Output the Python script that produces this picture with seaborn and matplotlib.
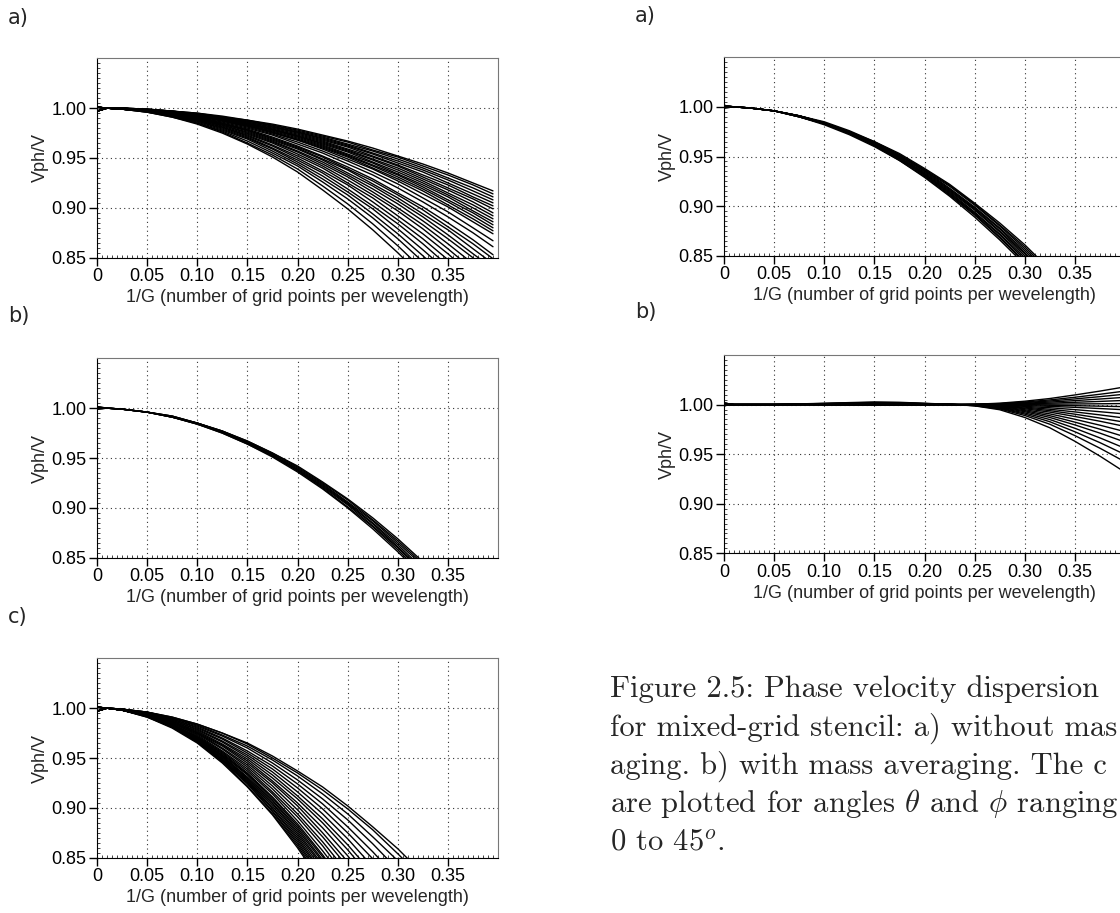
import pandas as pd
import seaborn as sns
import matplotlib.pyplot as plt
from matplotlib.ticker import MultipleLocator

sns.set_style("ticks")
plt.rcParams['font.family'] = ['Liberation Sans', 'DejaVu Sans']
plt.rcParams['mathtext.fontset'] = 'cm'

x_points = [0, 0.01, 0.025, 0.05, 0.075, 0.10, 0.125, 0.15, 0.175, 0.20,
            0.225, 0.25, 0.275, 0.30, 0.325, 0.35, 0.375, 0.395]

# left column a) - one row per (theta, phi) curve
left_a = [
    [1.001, 1.0, 1.000, 0.999, 0.997, 0.995, 0.992, 0.988, 0.984, 0.979, 0.973, 0.967, 0.960, 0.952, 0.944, 0.935, 0.925, 0.917],
    [0.997, 1.0, 1.000, 0.999, 0.997, 0.995, 0.991, 0.988, 0.983, 0.978, 0.972, 0.966, 0.958, 0.951, 0.942, 0.933, 0.923, 0.914],
    [1.001, 1.0, 1.000, 0.999, 0.997, 0.994, 0.991, 0.987, 0.983, 0.977, 0.971, 0.964, 0.957, 0.949, 0.940, 0.930, 0.920, 0.911],
    [0.997, 1.0, 1.000, 0.999, 0.997, 0.994, 0.991, 0.987, 0.982, 0.976, 0.970, 0.963, 0.955, 0.947, 0.938, 0.928, 0.917, 0.908],
    [1.001, 1.0, 1.000, 0.998, 0.997, 0.994, 0.990, 0.986, 0.981, 0.976, 0.969, 0.962, 0.954, 0.945, 0.936, 0.925, 0.914, 0.905],
    [0.997, 1.0, 1.000, 0.998, 0.996, 0.994, 0.990, 0.986, 0.981, 0.975, 0.968, 0.961, 0.952, 0.943, 0.933, 0.923, 0.911, 0.902],
    [1.001, 1.0, 1.000, 0.998, 0.996, 0.994, 0.990, 0.985, 0.980, 0.974, 0.967, 0.959, 0.951, 0.942, 0.931, 0.920, 0.909, 0.899],
    [0.997, 1.0, 1.000, 0.998, 0.996, 0.993, 0.990, 0.985, 0.979, 0.973, 0.966, 0.958, 0.949, 0.940, 0.929, 0.918, 0.906, 0.895],
    [1.001, 1.0, 1.000, 0.998, 0.996, 0.993, 0.989, 0.984, 0.979, 0.972, 0.965, 0.957, 0.948, 0.938, 0.927, 0.915, 0.903, 0.892],
    [0.997, 1.0, 1.000, 0.998, 0.996, 0.993, 0.989, 0.984, 0.978, 0.972, 0.964, 0.956, 0.946, 0.936, 0.925, 0.913, 0.900, 0.889],
    [1.001, 1.0, 1.000, 0.998, 0.996, 0.993, 0.989, 0.984, 0.978, 0.971, 0.963, 0.954, 0.945, 0.934, 0.923, 0.911, 0.897, 0.886],
    [0.997, 1.0, 1.000, 0.998, 0.996, 0.993, 0.988, 0.983, 0.977, 0.970, 0.962, 0.953, 0.943, 0.933, 0.921, 0.908, 0.895, 0.883],
    [1.001, 1.0, 1.000, 0.998, 0.996, 0.992, 0.988, 0.983, 0.976, 0.969, 0.961, 0.952, 0.942, 0.931, 0.919, 0.906, 0.892, 0.880],
    [0.997, 1.0, 1.000, 0.998, 0.996, 0.992, 0.988, 0.982, 0.976, 0.968, 0.960, 0.951, 0.940, 0.929, 0.917, 0.903, 0.889, 0.877],
    [1.001, 1.0, 0.999, 0.998, 0.995, 0.992, 0.987, 0.982, 0.975, 0.968, 0.959, 0.949, 0.939, 0.927, 0.914, 0.901, 0.886, 0.874],
    [0.997, 1.0, 0.999, 0.998, 0.995, 0.992, 0.987, 0.981, 0.974, 0.966, 0.957, 0.947, 0.936, 0.924, 0.910, 0.896, 0.880, 0.867],
    [1.001, 1.0, 0.999, 0.998, 0.995, 0.991, 0.986, 0.980, 0.973, 0.964, 0.955, 0.944, 0.933, 0.920, 0.906, 0.891, 0.875, 0.861],
    [0.997, 1.0, 0.999, 0.998, 0.995, 0.991, 0.985, 0.979, 0.971, 0.962, 0.952, 0.941, 0.929, 0.915, 0.901, 0.885, 0.868, 0.853],
    [1.001, 1.0, 0.999, 0.998, 0.995, 0.990, 0.985, 0.978, 0.970, 0.961, 0.951, 0.939, 0.927, 0.913, 0.898, 0.881, 0.864, 0.849],
    [0.997, 1.0, 0.999, 0.998, 0.994, 0.990, 0.984, 0.978, 0.969, 0.960, 0.949, 0.938, 0.924, 0.910, 0.894, 0.878, 0.859, 0.844],
    [1.001, 1.0, 0.999, 0.997, 0.994, 0.990, 0.984, 0.977, 0.968, 0.959, 0.948, 0.935, 0.922, 0.907, 0.891, 0.873, 0.854, 0.839],
    [0.997, 1.0, 0.999, 0.997, 0.994, 0.989, 0.983, 0.976, 0.967, 0.957, 0.946, 0.933, 0.919, 0.904, 0.887, 0.869, 0.850, 0.833],
    [1.001, 1.0, 0.999, 0.997, 0.994, 0.989, 0.983, 0.975, 0.966, 0.956, 0.944, 0.931, 0.916, 0.900, 0.883, 0.864, 0.844, 0.827],
    [0.997, 1.0, 0.999, 0.997, 0.994, 0.989, 0.982, 0.974, 0.965, 0.954, 0.942, 0.928, 0.913, 0.897, 0.879, 0.859, 0.838, 0.821],
    [1.001, 1.0, 0.999, 0.997, 0.993, 0.988, 0.981, 0.973, 0.963, 0.952, 0.940, 0.925, 0.910, 0.892, 0.874, 0.854, 0.832, 0.814],
    [0.997, 1.0, 0.999, 0.997, 0.993, 0.988, 0.981, 0.972, 0.962, 0.950, 0.937, 0.923, 0.906, 0.888, 0.869, 0.848, 0.826, 0.807],
    [1.001, 1.0, 0.999, 0.997, 0.993, 0.987, 0.980, 0.971, 0.960, 0.948, 0.935, 0.919, 0.902, 0.884, 0.864, 0.842, 0.819, 0.799],
    [0.997, 1.0, 0.999, 0.997, 0.992, 0.987, 0.979, 0.970, 0.959, 0.946, 0.932, 0.916, 0.899, 0.879, 0.858, 0.836, 0.812, 0.791],
    [1.001, 1.0, 0.999, 0.997, 0.992, 0.986, 0.978, 0.969, 0.957, 0.944, 0.929, 0.913, 0.894, 0.874, 0.852, 0.829, 0.803, 0.782],
    [0.997, 1.0, 0.999, 0.996, 0.992, 0.985, 0.977, 0.967, 0.955, 0.942, 0.926, 0.909, 0.890, 0.869, 0.846, 0.821, 0.795, 0.772],
    [1.001, 1.0, 0.999, 0.996, 0.991, 0.985, 0.976, 0.965, 0.953, 0.939, 0.922, 0.904, 0.884, 0.862, 0.838, 0.812, 0.784, 0.761],
    [0.997, 1.0, 0.999, 0.996, 0.991, 0.984, 0.975, 0.964, 0.951, 0.936, 0.918, 0.899, 0.878, 0.855, 0.830, 0.803, 0.774, 0.749],
]

# left column b)
left_b = [
    [1.001, 1.0, 0.999, 0.996, 0.992, 0.985, 0.977, 0.967, 0.955, 0.942, 0.926, 0.909, 0.890, 0.869, 0.846, 0.821, 0.795, 0.772],
    [0.9995, 1.0, 0.999, 0.996, 0.992, 0.985, 0.977, 0.967, 0.955, 0.941, 0.925, 0.908, 0.888, 0.867, 0.844, 0.819, 0.792, 0.769],
    [1.0015, 1.0, 0.999, 0.996, 0.992, 0.985, 0.977, 0.966, 0.954, 0.940, 0.924, 0.906, 0.887, 0.865, 0.842, 0.816, 0.789, 0.766],
    [0.999, 1.0, 0.999, 0.996, 0.991, 0.985, 0.976, 0.966, 0.953, 0.939, 0.923, 0.905, 0.885, 0.863, 0.839, 0.814, 0.786, 0.763],
    [1.001, 1.0, 0.999, 0.996, 0.991, 0.985, 0.976, 0.965, 0.953, 0.938, 0.922, 0.904, 0.884, 0.861, 0.837, 0.811, 0.783, 0.760],
    [0.9995, 1.0, 0.999, 0.996, 0.991, 0.984, 0.976, 0.965, 0.952, 0.938, 0.921, 0.903, 0.882, 0.860, 0.835, 0.809, 0.781, 0.757],
    [1.0015, 1.0, 0.999, 0.996, 0.991, 0.984, 0.975, 0.964, 0.952, 0.937, 0.920, 0.901, 0.881, 0.858, 0.833, 0.806, 0.778, 0.753],
    [0.999, 1.0, 0.999, 0.996, 0.991, 0.984, 0.975, 0.964, 0.951, 0.936, 0.919, 0.900, 0.879, 0.856, 0.831, 0.804, 0.775, 0.750],
]

# left column c)
left_c = [
    [1.001, 1.0, 0.998, 0.991, 0.980, 0.965, 0.945, 0.921, 0.893, 0.860, 0.823, 0.781, 0.735, 0.685, 0.630, 0.571, 0.508, 0.454],
    [0.997, 1.0, 0.998, 0.991, 0.981, 0.966, 0.946, 0.922, 0.894, 0.862, 0.825, 0.784, 0.739, 0.690, 0.636, 0.577, 0.515, 0.462],
    [1.001, 1.0, 0.998, 0.992, 0.981, 0.966, 0.947, 0.924, 0.896, 0.864, 0.828, 0.788, 0.743, 0.694, 0.641, 0.584, 0.522, 0.470],
    [0.997, 1.0, 0.998, 0.992, 0.981, 0.967, 0.948, 0.925, 0.897, 0.866, 0.830, 0.791, 0.747, 0.699, 0.646, 0.590, 0.529, 0.477],
    [1.001, 1.0, 0.998, 0.992, 0.981, 0.967, 0.948, 0.926, 0.899, 0.868, 0.833, 0.794, 0.750, 0.703, 0.651, 0.596, 0.536, 0.485],
    [0.997, 1.0, 0.998, 0.992, 0.982, 0.968, 0.949, 0.927, 0.900, 0.870, 0.835, 0.797, 0.754, 0.708, 0.657, 0.602, 0.543, 0.493],
    [1.001, 1.0, 0.998, 0.992, 0.982, 0.968, 0.950, 0.928, 0.902, 0.872, 0.838, 0.800, 0.758, 0.712, 0.662, 0.608, 0.550, 0.501],
    [0.997, 1.0, 0.998, 0.992, 0.982, 0.969, 0.951, 0.929, 0.904, 0.874, 0.841, 0.803, 0.762, 0.717, 0.667, 0.614, 0.557, 0.509],
    [1.001, 1.0, 0.998, 0.992, 0.983, 0.969, 0.952, 0.930, 0.905, 0.876, 0.843, 0.806, 0.766, 0.721, 0.673, 0.620, 0.564, 0.516],
    [0.997, 1.0, 0.998, 0.992, 0.983, 0.970, 0.952, 0.931, 0.907, 0.878, 0.846, 0.809, 0.769, 0.726, 0.678, 0.626, 0.571, 0.524],
    [1.001, 1.0, 0.998, 0.993, 0.983, 0.970, 0.953, 0.933, 0.908, 0.880, 0.848, 0.813, 0.773, 0.730, 0.683, 0.633, 0.578, 0.532],
    [0.997, 1.0, 0.998, 0.993, 0.983, 0.971, 0.954, 0.934, 0.910, 0.882, 0.851, 0.816, 0.777, 0.735, 0.688, 0.639, 0.585, 0.540],
    [1.001, 1.0, 0.998, 0.993, 0.984, 0.971, 0.955, 0.935, 0.911, 0.884, 0.853, 0.819, 0.781, 0.739, 0.694, 0.645, 0.592, 0.548],
    [0.997, 1.0, 0.998, 0.993, 0.984, 0.972, 0.956, 0.937, 0.914, 0.887, 0.857, 0.824, 0.787, 0.746, 0.702, 0.655, 0.603, 0.560],
    [1.001, 1.0, 0.998, 0.993, 0.985, 0.973, 0.957, 0.939, 0.916, 0.891, 0.862, 0.829, 0.794, 0.754, 0.712, 0.666, 0.616, 0.574],
    [0.997, 1.0, 0.998, 0.993, 0.985, 0.974, 0.959, 0.941, 0.919, 0.894, 0.866, 0.835, 0.800, 0.762, 0.721, 0.677, 0.629, 0.588],
    [1.001, 1.0, 0.998, 0.994, 0.986, 0.975, 0.960, 0.943, 0.922, 0.898, 0.871, 0.841, 0.807, 0.771, 0.731, 0.688, 0.641, 0.602],
    [0.997, 1.0, 0.998, 0.994, 0.986, 0.975, 0.962, 0.945, 0.925, 0.902, 0.875, 0.846, 0.814, 0.779, 0.740, 0.699, 0.654, 0.616],
    [1.001, 1.0, 0.999, 0.994, 0.987, 0.976, 0.963, 0.947, 0.927, 0.905, 0.880, 0.852, 0.821, 0.787, 0.750, 0.710, 0.667, 0.630],
    [0.997, 1.0, 0.999, 0.994, 0.987, 0.977, 0.964, 0.949, 0.930, 0.909, 0.885, 0.858, 0.828, 0.795, 0.759, 0.721, 0.679, 0.644],
    [1.001, 1.0, 0.999, 0.995, 0.988, 0.978, 0.966, 0.951, 0.933, 0.912, 0.889, 0.863, 0.834, 0.803, 0.769, 0.732, 0.692, 0.658],
    [0.997, 1.0, 0.999, 0.995, 0.988, 0.979, 0.967, 0.953, 0.936, 0.916, 0.894, 0.869, 0.841, 0.811, 0.778, 0.743, 0.705, 0.672],
    [1.001, 1.0, 0.999, 0.995, 0.989, 0.980, 0.969, 0.955, 0.939, 0.920, 0.899, 0.875, 0.849, 0.820, 0.789, 0.755, 0.719, 0.688],
    [0.997, 1.0, 0.999, 0.995, 0.989, 0.981, 0.970, 0.957, 0.942, 0.924, 0.904, 0.881, 0.856, 0.829, 0.799, 0.767, 0.733, 0.704],
    [1.001, 1.0, 0.999, 0.996, 0.990, 0.982, 0.972, 0.960, 0.945, 0.928, 0.909, 0.888, 0.864, 0.838, 0.810, 0.780, 0.747, 0.719],
    [0.997, 1.0, 0.999, 0.996, 0.990, 0.983, 0.973, 0.962, 0.948, 0.932, 0.914, 0.894, 0.871, 0.847, 0.820, 0.792, 0.761, 0.735],
    [1.001, 1.0, 0.999, 0.996, 0.991, 0.984, 0.975, 0.964, 0.950, 0.935, 0.918, 0.899, 0.878, 0.854, 0.829, 0.802, 0.772, 0.747],
    [0.997, 1.0, 0.999, 0.996, 0.991, 0.984, 0.975, 0.965, 0.952, 0.937, 0.921, 0.902, 0.881, 0.859, 0.834, 0.808, 0.779, 0.755],
]

# right column a) without mass averaging
right_a = [
    [1.001, 1.0, 0.999, 0.996, 0.991, 0.985, 0.976, 0.965, 0.953, 0.938, 0.922, 0.903, 0.883, 0.861, 0.836, 0.810, 0.782, 0.758],
    [0.999, 1.0, 0.999, 0.996, 0.991, 0.984, 0.975, 0.965, 0.952, 0.937, 0.921, 0.902, 0.881, 0.859, 0.834, 0.808, 0.779, 0.755],
    [1.0015, 1.0, 0.999, 0.996, 0.991, 0.984, 0.975, 0.964, 0.951, 0.936, 0.920, 0.901, 0.880, 0.857, 0.832, 0.805, 0.776, 0.752],
    [0.9995, 1.0, 0.999, 0.996, 0.991, 0.984, 0.975, 0.964, 0.951, 0.936, 0.918, 0.899, 0.878, 0.855, 0.830, 0.803, 0.774, 0.749],
    [1.001, 1.0, 0.999, 0.996, 0.991, 0.984, 0.975, 0.963, 0.950, 0.935, 0.917, 0.898, 0.877, 0.853, 0.828, 0.800, 0.771, 0.746],
    [0.999, 1.0, 0.999, 0.996, 0.991, 0.984, 0.974, 0.963, 0.949, 0.934, 0.916, 0.897, 0.875, 0.852, 0.826, 0.798, 0.768, 0.743],
    [1.0015, 1.0, 0.999, 0.996, 0.991, 0.983, 0.974, 0.962, 0.949, 0.933, 0.915, 0.896, 0.874, 0.850, 0.824, 0.795, 0.765, 0.739],
    [0.9995, 1.0, 0.999, 0.996, 0.990, 0.983, 0.974, 0.962, 0.948, 0.932, 0.914, 0.894, 0.872, 0.848, 0.821, 0.793, 0.762, 0.736],
    [1.001, 1.0, 0.999, 0.996, 0.990, 0.983, 0.973, 0.962, 0.948, 0.932, 0.913, 0.893, 0.871, 0.846, 0.819, 0.791, 0.760, 0.733],
    [0.999, 1.0, 0.999, 0.996, 0.990, 0.983, 0.973, 0.961, 0.947, 0.931, 0.912, 0.892, 0.869, 0.844, 0.817, 0.788, 0.757, 0.730],
    [1.0015, 1.0, 0.999, 0.996, 0.990, 0.983, 0.973, 0.961, 0.946, 0.930, 0.911, 0.891, 0.868, 0.843, 0.815, 0.786, 0.754, 0.727],
    [0.9995, 1.0, 0.999, 0.996, 0.990, 0.982, 0.972, 0.960, 0.946, 0.929, 0.910, 0.889, 0.866, 0.841, 0.813, 0.783, 0.751, 0.724],
]

# right column b) with mass averaging
right_b = [
    [1.001, 1.0, 1.0, 1.0, 0.9998, 0.9997, 0.9995, 0.9993, 0.9994, 0.9997, 0.9999, 1.0003, 1.0014, 1.0034, 1.0061, 1.0097, 1.0136, 1.017],
    [0.999, 1.0, 1.0, 1.0, 0.9999, 0.9997, 0.9996, 0.9995, 0.9995, 0.9997, 0.9999, 1.0003, 1.0010, 1.0026, 1.0047, 1.0074, 1.0104, 1.013],
    [1.0015, 1.0, 1.0, 1.0, 0.9999, 0.9998, 0.9997, 0.9996, 0.9997, 0.9998, 1.0, 1.0002, 1.0008, 1.0020, 1.0036, 1.0057, 1.0080, 1.010],
    [0.9995, 1.0, 1.0, 1.0, 0.9999, 0.9999, 0.9998, 0.9997, 0.9998, 0.9999, 1.0, 1.0001, 1.0006, 1.0014, 1.0025, 1.0040, 1.0056, 1.007],
    [1.001, 1.0, 1.0, 1.0, 1.0, 0.9999, 0.9999, 0.9998, 0.9999, 0.9999, 1.0, 1.0001, 1.0003, 1.0008, 1.0014, 1.0023, 1.0032, 1.004],
    [0.999, 1.0, 1.0, 1.0, 1.0, 1.0, 1.0, 1.0, 1.0, 1.0, 1.0, 1.0, 1.0001, 1.0002, 1.0004, 1.0006, 1.0008, 1.001],
    [1.0015, 1.0, 1.0, 1.0, 1.0, 1.0, 1.0001, 1.0001, 1.0001, 1.0, 1.0, 1.0, 0.9998, 0.9996, 0.9993, 0.9989, 0.9984, 0.998],
    [0.9995, 1.0, 1.0, 1.0, 1.0001, 1.0001, 1.0002, 1.0002, 1.0002, 1.0001, 1.0, 0.9999, 0.9996, 0.9990, 0.9982, 0.9972, 0.9960, 0.995],
    [1.001, 1.0, 1.0, 1.0, 1.0001, 1.0002, 1.0003, 1.0004, 1.0003, 1.0002, 1.0, 0.9998, 0.9993, 0.9982, 0.9968, 0.9949, 0.9928, 0.991],
    [0.999, 1.0, 1.0, 1.0, 1.0001, 1.0003, 1.0004, 1.0005, 1.0005, 1.0003, 1.0001, 0.9997, 0.9990, 0.9974, 0.9953, 0.9926, 0.9896, 0.987],
    [1.0015, 1.0, 1.0, 1.0, 1.0002, 1.0003, 1.0005, 1.0007, 1.0006, 1.0003, 1.0001, 0.9997, 0.9986, 0.9966, 0.9939, 0.9903, 0.9864, 0.983],
    [0.9995, 1.0, 1.0, 1.0, 1.0002, 1.0004, 1.0006, 1.0008, 1.0007, 1.0004, 1.0001, 0.9996, 0.9983, 0.9958, 0.9924, 0.9880, 0.9832, 0.979],
    [1.001, 1.0, 1.0, 1.0, 1.0003, 1.0005, 1.0008, 1.0010, 1.0009, 1.0005, 1.0001, 0.9995, 0.9979, 0.9948, 0.9906, 0.9852, 0.9792, 0.974],
    [0.999, 1.0, 1.0, 1.0, 1.0003, 1.0006, 1.0009, 1.0012, 1.0011, 1.0006, 1.0002, 0.9994, 0.9975, 0.9938, 0.9888, 0.9823, 0.9752, 0.969],
    [1.0015, 1.0, 1.0, 1.0, 1.0004, 1.0007, 1.0011, 1.0014, 1.0013, 1.0007, 1.0002, 0.9993, 0.9971, 0.9928, 0.9870, 0.9795, 0.9712, 0.964],
    [0.9995, 1.0, 1.0, 1.0, 1.0004, 1.0008, 1.0013, 1.0017, 1.0015, 1.0008, 1.0002, 0.9992, 0.9966, 0.9916, 0.9849, 0.9761, 0.9664, 0.958],
    [1.001, 1.0, 1.0, 1.0, 1.0005, 1.0010, 1.0014, 1.0019, 1.0017, 1.0010, 1.0002, 0.9990, 0.9962, 0.9904, 0.9827, 0.9726, 0.9616, 0.952],
    [0.999, 1.0, 1.0, 1.0, 1.0006, 1.0011, 1.0017, 1.0022, 1.0019, 1.0011, 1.0003, 0.9989, 0.9956, 0.9890, 0.9802, 0.9687, 0.9560, 0.945],
    [1.0015, 1.0, 1.0, 1.0, 1.0007, 1.0013, 1.0020, 1.0026, 1.0023, 1.0013, 1.0003, 0.9987, 0.9948, 0.9870, 0.9766, 0.9630, 0.9480, 0.935],
]

x_ticks = [0, 0.05, 0.10, 0.15, 0.20, 0.25, 0.30, 0.35]
x_ticklabels = ['0', '0.05', '0.10', '0.15', '0.20', '0.25', '0.30', '0.35']
y_ticks = [0.85, 0.90, 0.95, 1.00]
y_ticklabels = ['0.85', '0.90', '0.95', '1.00']

# caption lines as far as they are visible before the page edge
caption = [
    "Figure 2.5: Phase velocity dispersion",
    "for mixed-grid stencil: a) without mas",
    "aging. b) with mass averaging. The c",
    r"are plotted for angles $\theta$ and $\phi$ ranging",
    r"0 to $45^o$.",
]


def panel(fig, rect, curves):
    ax = fig.add_axes(rect)
    df = pd.DataFrame(curves, columns=x_points)
    df['curve'] = range(len(df))
    long = df.melt(id_vars='curve', var_name='x', value_name='v')
    long['x'] = long['x'].astype(float)
    sns.lineplot(data=long, x='x', y='v', units='curve', estimator=None,
                 color='black', lw=1.0, legend=False, ax=ax)
    ax.set_xlim(0, 0.40)
    ax.set_ylim(0.85, 1.05)
    ax.set_xticks(x_ticks)
    ax.set_xticklabels(x_ticklabels)
    ax.set_yticks(y_ticks)
    ax.set_yticklabels(y_ticklabels)
    ax.xaxis.set_minor_locator(MultipleLocator(0.005))
    ax.yaxis.set_minor_locator(MultipleLocator(0.005))
    ax.tick_params(which='major', direction='out', length=6, width=1,
                   labelsize=13, pad=1.5, colors='black')
    ax.tick_params(which='minor', direction='in', length=2.5, width=0.6)
    ax.grid(True, which='major', linestyle=(0, (1, 3)), linewidth=0.8, color='#333333')
    ax.set_axisbelow(True)
    for s in ['top', 'right']:
        ax.spines[s].set_color('#777777')
    for s in ['left', 'bottom']:
        ax.spines[s].set_color('black')
    ax.set_xlabel('1/G (number of grid points per wevelength)', fontsize=13, labelpad=3)
    ax.set_ylabel('Vph/V', fontsize=13, labelpad=2)
    return ax


fig = plt.figure(figsize=(11.2, 9.13), dpi=100)

W = 401 / 1120
panel(fig, [97 / 1120, 1 - 257.7 / 913, W, 199.4 / 913], left_a)
panel(fig, [97 / 1120, 1 - 557.7 / 913, W, 199.4 / 913], left_b)
panel(fig, [97 / 1120, 1 - 857.7 / 913, W, 199.4 / 913], left_c)
panel(fig, [724 / 1120, 1 - 255.7 / 913, W, 198.4 / 913], right_a)
panel(fig, [724 / 1120, 1 - 553.3 / 913, W, 198.3 / 913], right_b)

for lab, xp, yp in [('a)', 8, 24), ('b)', 8, 322), ('c)', 8, 623), ('a)', 635, 22), ('b)', 635, 318)]:
    fig.text(xp / 1120, 1 - yp / 913, lab, fontsize=15, family='DejaVu Sans', va='baseline')

for i, line in enumerate(caption):
    fig.text(610 / 1120, 1 - (697 + 38.3 * i) / 913, line, fontsize=22,
             family='cmr10', va='baseline')

fig.savefig('out.png', dpi=100)
